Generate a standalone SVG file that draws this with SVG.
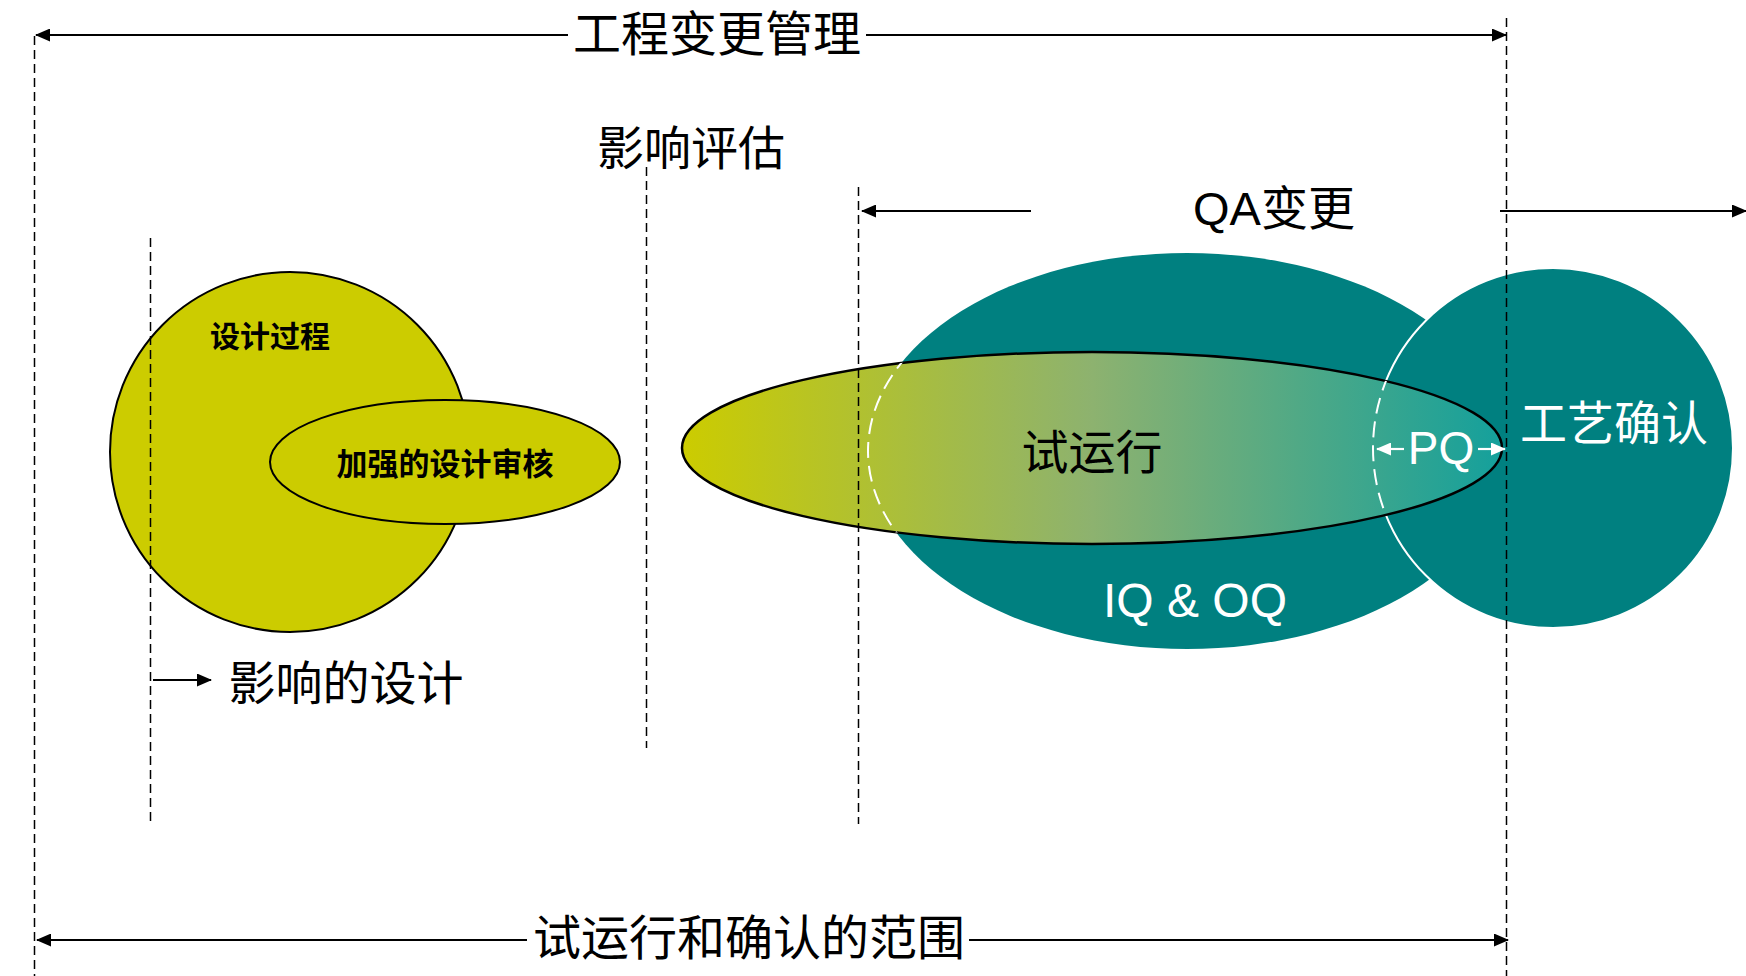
<svg xmlns="http://www.w3.org/2000/svg" width="1746" height="976" viewBox="0 0 1746 976">
<style>
.lbl{font-family:"Liberation Sans","Noto Sans CJK SC",sans-serif;text-anchor:middle;dominant-baseline:central;fill:#000}
.big{font-size:47px}
.bold{font-size:30px;font-weight:bold}
.w{fill:#fff}
.dash{stroke:#000;stroke-width:1.5;stroke-dasharray:9 5;fill:none}
.arr{stroke:#000;stroke-width:2.2;fill:none}
.warr{stroke:#fff;stroke-width:2.2;fill:none}
.wdash{stroke:#fff;stroke-width:2;stroke-dasharray:16 8;fill:none}
</style>
<defs>
<marker id="ah" viewBox="0 0 15 13" refX="14" refY="6.5" markerWidth="15" markerHeight="13" markerUnits="userSpaceOnUse" orient="auto-start-reverse">
<path d="M0,0 L15,6.5 L0,13 Z" fill="#000"/>
</marker>
<marker id="wah" viewBox="0 0 15 13" refX="14" refY="6.5" markerWidth="15" markerHeight="13" markerUnits="userSpaceOnUse" orient="auto-start-reverse">
<path d="M0,0 L15,6.5 L0,13 Z" fill="#fff"/>
</marker>
<linearGradient id="grad" gradientUnits="userSpaceOnUse" x1="682" y1="0" x2="1503" y2="0">
<stop offset="0" stop-color="#CCCC00"/>
<stop offset="0.5" stop-color="#8DB26F"/>
<stop offset="1" stop-color="#14A09C"/>
</linearGradient>
<clipPath id="clipE"><ellipse cx="1092" cy="448" rx="410" ry="96"/></clipPath>
</defs>

<g id="design-process">
<circle cx="290" cy="452" r="180" fill="#CCCC00" stroke="#000" stroke-width="2"/>
</g>
<g id="enhanced-review">
<ellipse cx="445" cy="462" rx="175" ry="62" fill="#CCCC00" stroke="#000" stroke-width="2"/>
</g>
<g id="iq-oq">
<ellipse cx="1187" cy="451" rx="319" ry="198" fill="#008080"/>
</g>
<g id="process-validation">
<circle cx="1553" cy="448" r="180" fill="#008080" stroke="#fff" stroke-width="2"/>
</g>
<g id="commissioning">
<ellipse cx="1092" cy="448" rx="410" ry="96" fill="url(#grad)" stroke="#000" stroke-width="2.5"/>
<g clip-path="url(#clipE)">
<ellipse cx="1187" cy="451" rx="319" ry="198" class="wdash"/>
<circle cx="1553" cy="448" r="180" class="wdash"/>
</g>
</g>

<g id="connectors">
<line class="dash" x1="34.5" y1="36" x2="34.5" y2="976"/>
<line class="dash" x1="1506.5" y1="18" x2="1506.5" y2="976"/>
<line class="dash" x1="150.5" y1="238" x2="150.5" y2="821"/>
<line class="dash" x1="646.5" y1="167" x2="646.5" y2="748"/>
<line class="dash" x1="858.5" y1="187" x2="858.5" y2="824"/>
<line class="arr" x1="568" y1="35" x2="36" y2="35" marker-end="url(#ah)"/>
<line class="arr" x1="866" y1="35" x2="1506" y2="35" marker-end="url(#ah)"/>
<line class="arr" x1="1031" y1="211" x2="862" y2="211" marker-end="url(#ah)"/>
<line class="arr" x1="1500" y1="211" x2="1746" y2="211" marker-end="url(#ah)"/>
<line class="arr" x1="153" y1="680" x2="211" y2="680" marker-end="url(#ah)"/>
<line class="arr" x1="527" y1="940" x2="37" y2="940" marker-end="url(#ah)"/>
<line class="arr" x1="969" y1="940" x2="1508" y2="940" marker-end="url(#ah)"/>
<line class="warr" x1="1404" y1="449" x2="1377" y2="449" marker-end="url(#wah)"/>
<line class="warr" x1="1478" y1="449" x2="1505" y2="449" marker-end="url(#wah)"/>
</g>

<g id="labels">
<text class="lbl" x="717" y="34" style="font-size:48px">工程变更管理</text>
<text class="lbl big" x="691" y="148">影响评估</text>
<text class="lbl big" x="1274" y="208">QA变更</text>
<text class="lbl bold" x="270" y="336">设计过程</text>
<text class="lbl bold" x="445" y="464" style="font-size:31px">加强的设计审核</text>
<text class="lbl big" x="346" y="683">影响的设计</text>
<text class="lbl big" x="1092" y="452">试运行</text>
<text class="lbl w" x="1195" y="600" style="font-size:48px">IQ &amp; OQ</text>
<text class="lbl w" x="1441" y="448" style="font-size:46px">PQ</text>
<text class="lbl w big" x="1614" y="423">工艺确认</text>
<text class="lbl" x="749" y="938" style="font-size:48px">试运行和确认的范围</text>
</g>
</svg>
